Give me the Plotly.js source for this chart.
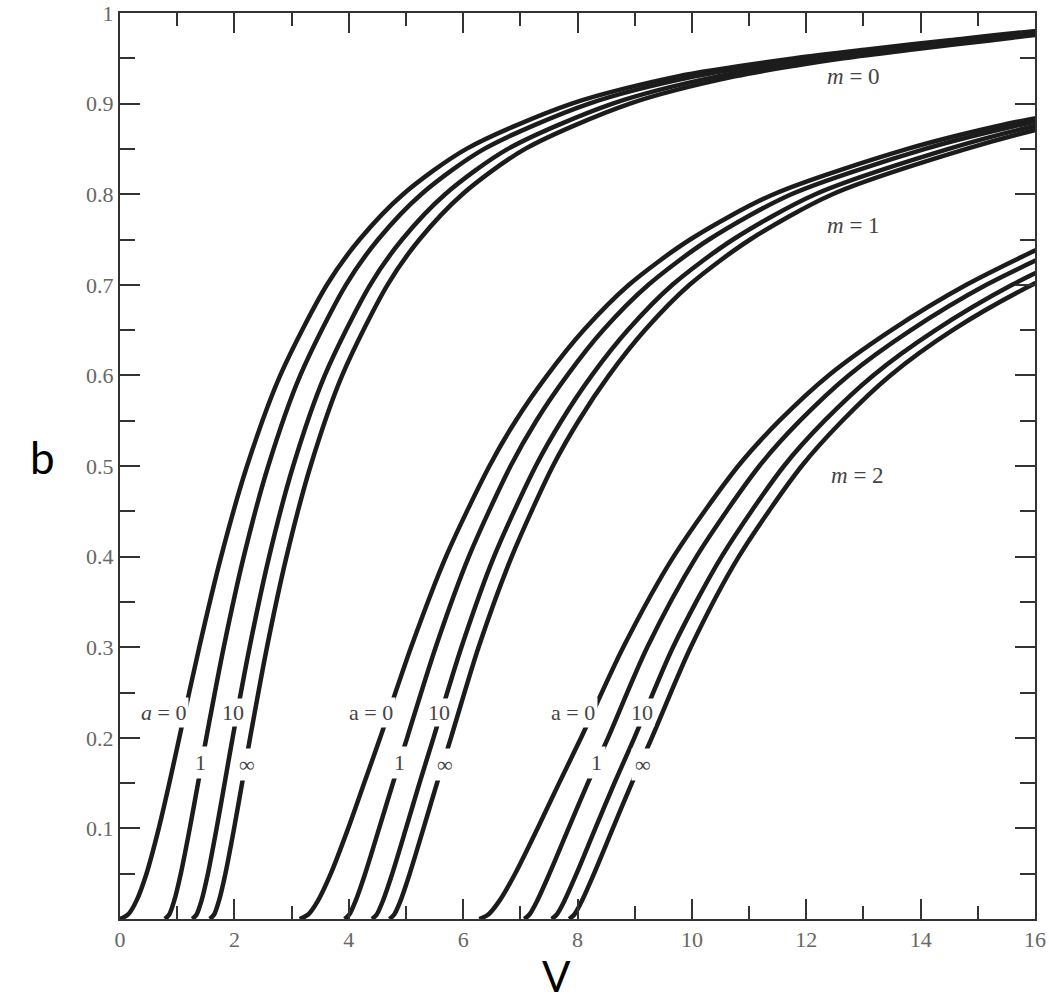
<!DOCTYPE html>
<html>
<head>
<meta charset="utf-8">
<script src="https://cdn.plot.ly/plotly-3.0.1.min.js"></script>
<style>html,body{margin:0;padding:0;background:#fff;}#chart{width:1049px;height:1004px;}</style>
</head>
<body>
<div id="chart"></div>
<script>
// b levels (normalized propagation constant) for each mode
const bM0 = [0,0.005,0.02,0.05,0.1,0.15,0.2,0.3,0.4,0.5,0.6,0.7,0.75,0.8,0.85,0.9,0.93,0.95,0.96,0.97,0.98,0.985];
const bM1 = [0,0.005,0.02,0.05,0.1,0.15,0.2,0.3,0.4,0.5,0.55,0.6,0.65,0.7,0.75,0.8,0.85,0.875,0.9];
const bM2 = [0,0.005,0.02,0.05,0.1,0.15,0.2,0.3,0.4,0.5,0.55,0.6,0.65,0.7,0.75];

// V values, mode m = 0
const vM0a0   = [0,0.142,0.287,0.463,0.678,0.863,1.037,1.386,1.768,2.221,2.802,3.619,4.189,4.951,6.058,7.900,9.750,11.80,13.10,14.50,16.00,17.50];
const vM0a1   = [0.785,0.861,0.947,1.063,1.220,1.365,1.509,1.814,2.164,2.592,3.152,3.951,4.513,5.269,6.369,8.204,10.05,12.05,13.35,14.75,16.20,17.70];
const vM0a10  = [1.265,1.339,1.424,1.537,1.689,1.830,1.969,2.266,2.608,3.028,3.581,4.375,4.933,5.686,6.783,8.615,10.45,12.40,13.65,15.00,16.45,17.90];
const vM0aInf = [1.571,1.646,1.730,1.843,1.995,2.135,2.275,2.570,2.912,3.332,3.885,4.678,5.236,5.988,7.085,8.917,10.75,12.65,13.90,15.25,16.65,18.10];

// V values, mode m = 1
const vM1a0   = [3.142,3.292,3.460,3.686,3.990,4.270,4.549,5.090,5.700,6.460,6.920,7.470,8.110,8.900,9.970,11.43,13.77,15.33,17.30];
const vM1a1   = [3.927,4.010,4.120,4.286,4.531,4.773,5.021,5.520,6.100,6.830,7.280,7.820,8.450,9.240,10.30,11.74,14.08,15.63,17.60];
const vM1a10  = [4.406,4.489,4.597,4.760,5.001,5.237,5.482,5.970,6.540,7.270,7.720,8.250,8.880,9.660,10.72,12.16,14.49,15.98,17.95];
const vM1aInf = [4.712,4.795,4.904,5.066,5.307,5.543,5.787,6.270,6.850,7.570,8.020,8.550,9.180,9.960,11.02,12.46,14.80,16.28,18.25];

// V values, mode m = 2
const vM2a0   = [6.283,6.441,6.634,6.909,7.301,7.678,8.062,8.800,9.680,10.81,11.53,12.39,13.49,14.80,16.40];
const vM2a1   = [7.069,7.160,7.294,7.509,7.843,8.180,8.534,9.220,10.08,11.18,11.89,12.74,13.83,15.15,16.80];
const vM2a10  = [7.548,7.638,7.771,7.983,8.312,8.645,8.994,9.670,10.52,11.61,12.32,13.17,14.26,15.60,17.25];
const vM2aInf = [7.854,7.945,8.077,8.289,8.618,8.950,9.299,9.980,10.82,11.92,12.63,13.47,14.56,15.95,17.70];

// tick labels
const xTickVals = [0,2,4,6,8,10,12,14,16];
const xTickText = ['0','2','4','6','8','10','12','14','16'];
const yTickVals = [0.1,0.2,0.3,0.4,0.5,0.6,0.7,0.8,0.9,1];
const yTickText = ['0.1','0.2','0.3','0.4','0.5','0.6','0.7','0.8','0.9','1'];

// curve labels
const aLabelsV0 = [1.08, 4.70, 8.24];   // position of "0" in "a = 0"
const aLabelB0 = 0.228;
const tenLabelV = [1.98, 5.57, 9.12];
const oneLabelV = [1.40, 4.88, 8.33];
const infLabelV = [2.22, 5.69, 9.15];
const tenLabelB = 0.228;
const oneLabelB = 0.173;
const infLabelB = 0.170;
const mLabels = ['<i>m</i> = 0','<i>m</i> = 1','<i>m</i> = 2'];
const mLabelV = [12.82, 12.82, 12.9];
const mLabelB = [0.93, 0.765, 0.49];

const curveSets = [
  [bM0, vM0a0],[bM0, vM0a1],[bM0, vM0a10],[bM0, vM0aInf],
  [bM1, vM1a0],[bM1, vM1a1],[bM1, vM1a10],[bM1, vM1aInf],
  [bM2, vM2a0],[bM2, vM2a1],[bM2, vM2a10],[bM2, vM2aInf]
];

const traces = curveSets.map(([b, v]) => ({
  x: v, y: b, type: 'scatter', mode: 'lines',
  line: {color: '#1c1c1c', width: 4.5, shape: 'spline', smoothing: 0.8},
  showlegend: false, hoverinfo: 'skip'
}));

const serif = 'Liberation Serif, Times New Roman, serif';
const sans = 'Lato, Open Sans, sans-serif';
const labFont = {family: serif, size: 22, color: '#444'};
const annotations = [];
for (let i = 0; i < 3; i++) {
  annotations.push({x: aLabelsV0[i], y: aLabelB0, xref: 'x', yref: 'y',
    text: (i === 0 ? '<i>a</i>' : 'a') + ' = 0', showarrow: false, xanchor: 'right', xshift: 7,
    font: labFont, bgcolor: '#fff', borderpad: 2});
  annotations.push({x: tenLabelV[i], y: tenLabelB, xref: 'x', yref: 'y', text: '10', showarrow: false,
    font: labFont, bgcolor: '#fff', borderpad: 1});
  annotations.push({x: oneLabelV[i], y: oneLabelB, xref: 'x', yref: 'y', text: '1', showarrow: false,
    font: labFont, bgcolor: '#fff', borderpad: 3});
  annotations.push({x: infLabelV[i], y: infLabelB, xref: 'x', yref: 'y', text: '∞', showarrow: false,
    font: labFont, bgcolor: '#fff', borderpad: 3});
  annotations.push({x: mLabelV[i], y: mLabelB[i], xref: 'x', yref: 'y', text: mLabels[i], showarrow: false,
    font: {family: serif, size: 23, color: '#444'}});
}
// axis titles (b is upright in the original, so both are placed as annotations)
annotations.push({x: -0.101, y: 0.51, xref: 'paper', yref: 'paper', text: 'b', showarrow: false,
  font: {family: sans, size: 44, color: '#000'}});
annotations.push({x: 0.477, y: -0.063, xref: 'paper', yref: 'paper', text: 'V', showarrow: false,
  yanchor: 'middle', font: {family: sans, size: 42, color: '#000'}});

const axisCommon = {
  showline: true, linecolor: '#333', linewidth: 2, mirror: 'ticks',
  ticks: 'inside', tickcolor: '#333', tickwidth: 2, ticklen: 20,
  showgrid: false, zeroline: false, tickmode: 'array',
  tickfont: {family: serif, size: 22, color: '#666'}
};

const layout = {
  width: 1049, height: 1004,
  margin: {l: 120, r: 14, t: 13, b: 85},
  paper_bgcolor: '#fff', plot_bgcolor: '#fff',
  showlegend: false,
  xaxis: Object.assign({}, axisCommon, {
    range: [0, 16], tickvals: xTickVals, ticktext: xTickText,
    minor: {tickmode: 'linear', tick0: 0, dtick: 1, ticks: 'inside', ticklen: 13, tickcolor: '#333', tickwidth: 2}
  }),
  yaxis: Object.assign({}, axisCommon, {
    range: [0, 1], tickvals: yTickVals, ticktext: yTickText,
    minor: {tickmode: 'linear', tick0: 0, dtick: 0.05, ticks: 'inside', ticklen: 15, tickcolor: '#333', tickwidth: 2}
  }),
  annotations: annotations
};

Plotly.newPlot('chart', traces, layout, {displayModeBar: false, staticPlot: true});
</script>
</body>
</html>
